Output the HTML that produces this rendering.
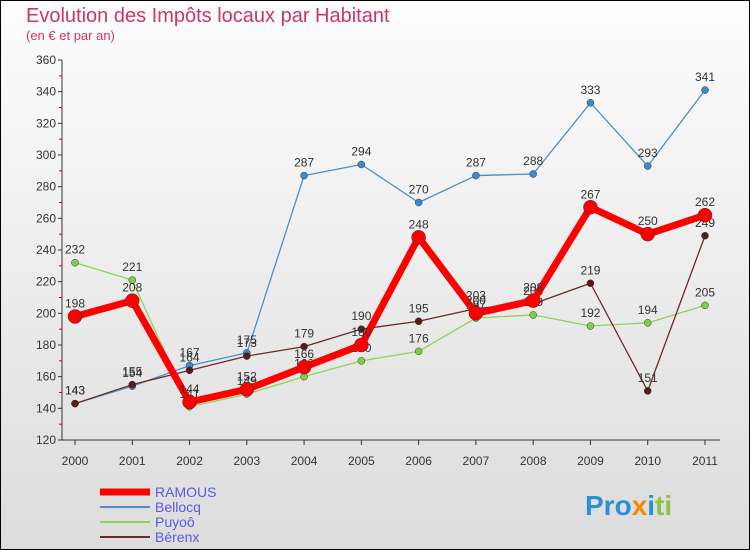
<!DOCTYPE html>
<html><head><meta charset="utf-8"><style>
body{margin:0;background:#fff}
svg{display:block;font-family:"Liberation Sans",sans-serif}
</style></head><body>
<svg width="750" height="550" viewBox="0 0 750 550">
<defs><linearGradient id="bg" x1="0" y1="0" x2="0" y2="1"><stop offset="0" stop-color="#fdfdfd"/><stop offset="1" stop-color="#dcdcdc"/></linearGradient></defs>
<rect x="0.5" y="0.5" width="749" height="549" fill="url(#bg)" stroke="#000"/>
<text x="26" y="22" font-size="20" fill="#c8385f">Evolution des Impôts locaux par Habitant</text>
<text x="26" y="40" font-size="13" fill="#c8385f">(en € et par an)</text>
<g id="axes"></g>
<g id="series"></g>
<g id="legend"></g>
<text x="585" y="515" font-size="28" font-weight="bold"><tspan fill="#2a8fd4">Pro</tspan><tspan fill="#f08a00">x</tspan><tspan fill="#2a8fd4">i</tspan><tspan fill="#8bc34a">ti</tspan></text>
</svg>
<script>
const years=["2000","2001","2002","2003","2004","2005","2006","2007","2008","2009","2010","2011"];
const yTicks=[120,140,160,180,200,220,240,260,280,300,320,340,360];
const ramous=[198,208,144,152,166,180,248,200,208,267,250,262];
const bellocq=[143,154,167,175,287,294,270,287,288,333,293,341];
const puyoo=[232,221,141,149,160,170,176,197,199,192,194,205];
const berenx=[143,155,164,173,179,190,195,203,206,219,151,249];
const NS="http://www.w3.org/2000/svg";
function X(i){return 75+i*(630/11);}
function Y(v){return 440-(v-120)*380/240;}
function mk(t,a,p){const e=document.createElementNS(NS,t);for(const k in a)e.setAttribute(k,a[k]);p.appendChild(e);return e;}
const ax=document.getElementById('axes');
const yl=mk('line',{x1:62,y1:60,x2:62,y2:440,stroke:'#333'},ax);


yTicks.forEach(v=>{
 const t=mk('text',{x:56,y:Y(v)+4,'text-anchor':'end','font-size':12,fill:'#333'},ax);t.textContent=v;
 
 
 mk('line',{x1:58,y1:Y(v),x2:62,y2:Y(v),stroke:'#333'},ax);
 if(v<360)mk('line',{x1:59,y1:Y(v+10),x2:62,y2:Y(v+10),stroke:'#d00'},ax);
});
const xl=mk('line',{x1:62,y1:440,x2:720,y2:440,stroke:'#333'},ax);


years.forEach((y,i)=>{
 mk('line',{x1:X(i),y1:440,x2:X(i),y2:445,stroke:'#333'},ax);
 const t=mk('text',{x:X(i),y:465,'text-anchor':'middle','font-size':12,fill:'#333'},ax);t.textContent=y;
 
 
});
const sg=document.getElementById('series');
function series(data,name,color,w,r,dot){
 const g=mk('g',{},sg);
 
 
 const p=mk('polyline',{points:data.map((v,i)=>X(i)+','+Y(v)).join(' '),fill:'none',stroke:color,'stroke-width':w,'stroke-linejoin':'round'},g);
 
 
 data.forEach((v,i)=>{
  const c=mk('circle',{cx:X(i),cy:Y(v),r:r,fill:dot,stroke:'#333','stroke-width':0.5},g);
  
  
  const t=mk('text',{x:X(i),y:Y(v)-9,'text-anchor':'middle','font-size':12,fill:'#333'},g);t.textContent=v;
  
  
 });
}
series(bellocq,'bellocq','#4a90c8',1.3,3.5,'#3a8ad0');
series(puyoo,'puyoo','#8ed45a',1.3,3.5,'#7ed040');
series(berenx,'berenx','#6b2a2a',1.3,3.5,'#5a1a1a');
series(ramous,'ramous','#ff0000',7,7,'#ff0000');
const lg=document.getElementById('legend');
const items=[['RAMOUS','#ff0000',7],['Bellocq','#4a90c8',2],['Puyoô','#8ed45a',2],['Bérenx','#6b2a2a',2]];
items.forEach((it,i)=>{
 const y=492+i*15;
 const l=mk('line',{x1:100,y1:y,x2:150,y2:y,stroke:it[1],'stroke-width':it[2]},lg);
 
 
 const t=mk('text',{x:155,y:y+5,'font-size':14,fill:'#5a5ae0'},lg);t.textContent=it[0];
 
 
});
</script>
</body></html>
